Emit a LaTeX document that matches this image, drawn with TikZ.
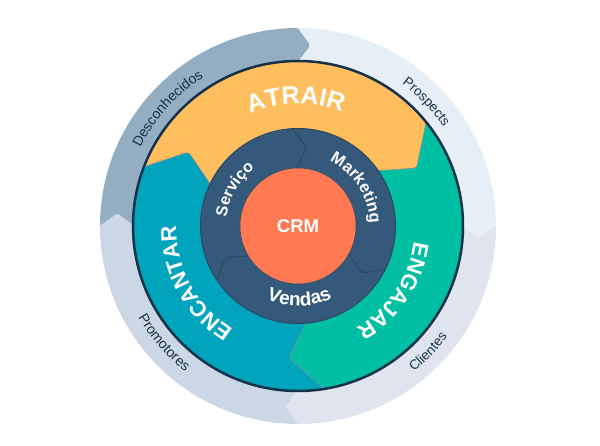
\documentclass[tikz,border=0pt]{standalone}
\usepackage{fontspec}
\setmainfont{Liberation Sans}
\usetikzlibrary{decorations.text}
\definecolor{ringA}{HTML}{93ADC2}
\definecolor{ringB}{HTML}{E6EEF6}
\definecolor{ringC}{HTML}{DFE4EE}
\definecolor{ringD}{HTML}{CBD7E5}
\definecolor{atrair}{HTML}{FFBE5E}
\definecolor{engajar}{HTML}{00BFA2}
\definecolor{encantar}{HTML}{00A4BD}
\definecolor{hub}{HTML}{35597A}
\definecolor{seamline}{HTML}{2B4862}
\definecolor{crm}{HTML}{FF7A53}
\definecolor{outline}{HTML}{16324A}
\tikzset{%
  flap/.style  = {rounded corners=3pt, draw=seamline!60, line width=0.5pt},
  seam/.style  = {rounded corners=4pt, draw=seamline, line width=1pt},
  curvewhite/.style 2 args = {decorate, decoration={text along path, text align=center,
      text={|\fontsize{#1}{#1}\selectfont\bfseries\color{white}|#2}}},
  curvedark/.style 2 args  = {decorate, decoration={text along path, text align=center,
      text={|\fontsize{#1}{#1}\selectfont\color{outline}|#2}}},
}
\begin{document}
\begin{tikzpicture}[x=1pt, y=1pt]
  \useasboundingbox (-298,-220) rectangle (302,226);

  % outer arrows
  \foreach \h/\col in {90/ringA, 0/ringB, -90/ringC, 180/ringD}
    \fill[\col]
      ({\h+90}:198) arc[start angle={\h+90}, end angle=\h, radius=198]
      [rounded corners=2pt] -- ({\h-4}:181) [sharp corners] -- (\h:164)
      arc[start angle=\h, end angle={\h+90}, radius=164]
      [rounded corners=2pt] -- ({\h+86}:181) [sharp corners] -- cycle;

  % middle arrows
  \foreach \h/\col in {39/atrair, -81/engajar, 159/encantar}
    \filldraw[flap, fill=\col]
      ({\h+120}:165) arc[start angle={\h+120}, end angle=\h, radius=165]
      -- ({\h-13}:132) -- ({\h-4}:96)
      arc[start angle={\h-4}, end angle={\h+116}, radius=96]
      -- ({\h+107}:132) -- cycle;
  \node (rim) [circle, draw=outline, line width=2.5pt, minimum size=330pt, inner sep=0pt] at (0,0) {};

  % hub
  \node (ring) [circle, fill=hub, draw=seamline, line width=1pt, minimum size=195pt, inner sep=0pt] at (0,0) {};
  \foreach \a in {0,120,240}
    \draw[seam] ({\a+93.6}:97) -- ({\a+83.5}:79.5) -- ({\a+91}:58);
  \node (core) [circle, fill=crm, draw=seamline, line width=0.5pt, minimum size=116pt, inner sep=0pt,
                text=white, font=\fontsize{18.5}{18.5}\selectfont\bfseries] at (0,0) {CRM};

  % curved labels
  \path[curvewhite={25}{ATRAIR}]   (131:122) arc[start angle=131, end angle=51, radius=122];
  \path[curvewhite={22}{ENGAJAR}]  (6:117)   arc[start angle=6, end angle=-74, radius=117];
  \path[curvewhite={22}{ENCANTAR}] (249:122) arc[start angle=249, end angle=169, radius=122];
  \path[curvewhite={16}{Serviço}]  (190:72)  arc[start angle=190, end angle=110, radius=72];
  \path[curvewhite={16.5}{Marketing}] (78:72)  arc[start angle=78, end angle=-12, radius=72];
  \path[curvewhite={19}{Vendas}] (-130:80) arc[start angle=-130, end angle=-48, radius=80];

  \path[curvedark={14}{Desconhecidos}] (168:176) arc[start angle=168, end angle=108, radius=176];
  \path[curvedark={13.5}{Prospects}]     (74:176) arc[start angle=74, end angle=14, radius=176];
  \path[curvedark={13.5}{Clientes}]      (-75:186) arc[start angle=-75, end angle=-13, radius=186];
  \path[curvedark={14}{Promotores}]      (191:184) arc[start angle=191, end angle=251, radius=184];
\end{tikzpicture}
\end{document}
